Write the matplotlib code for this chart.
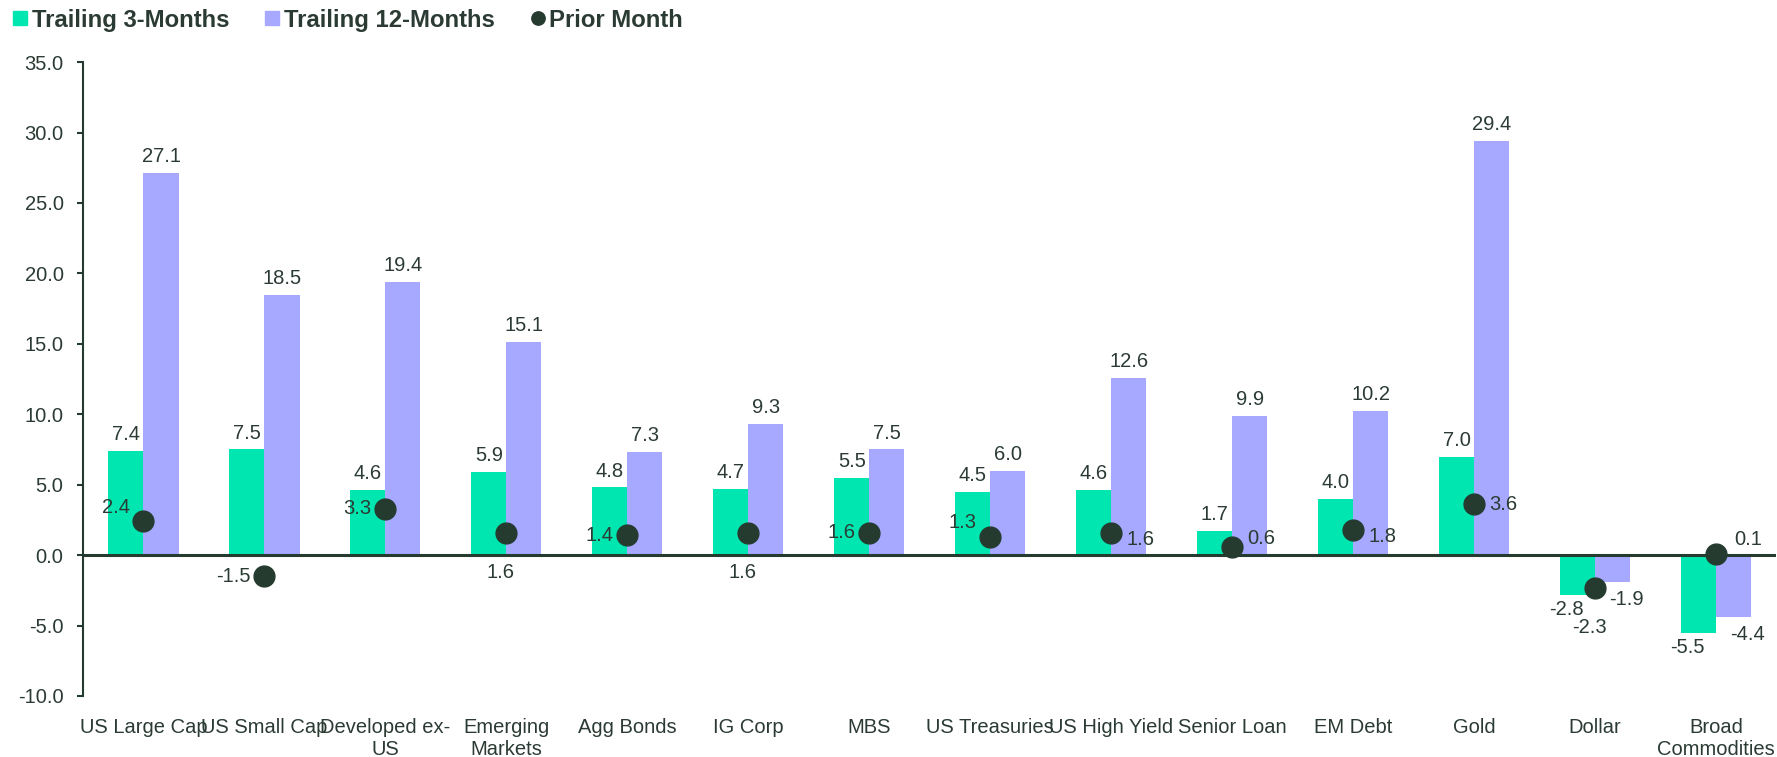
import numpy as np
import matplotlib
matplotlib.use("Agg")
import matplotlib.pyplot as plt
from matplotlib.lines import Line2D

# data
categories = ["US Large Cap", "US Small Cap", "Developed ex-\nUS", "Emerging\nMarkets",
              "Agg Bonds", "IG Corp", "MBS", "US Treasuries", "US High Yield",
              "Senior Loan", "EM Debt", "Gold", "Dollar", "Broad\nCommodities"]
trailing_3m = [7.4, 7.5, 4.6, 5.9, 4.8, 4.7, 5.5, 4.5, 4.6, 1.7, 4.0, 7.0, -2.8, -5.5]
trailing_12m = [27.1, 18.5, 19.4, 15.1, 7.3, 9.3, 7.5, 6.0, 12.6, 9.9, 10.2, 29.4, -1.9, -4.4]
prior_month = [2.4, -1.5, 3.3, 1.6, 1.4, 1.6, 1.6, 1.3, 1.6, 0.6, 1.8, 3.6, -2.3, 0.1]
# where the prior-month label sits relative to its dot
prior_side = ["upleft", "left", "left", "below", "left", "below", "left", "upleft",
              "downright", "upright", "downright", "right", "below", "upright2"]

GREEN = "#00e6b0"
PURPLE = "#a6a9ff"
DOT = "#253b2f"
TXT = "#2b3b33"
FONT = "Liberation Sans"

plt.rcParams["font.family"] = [FONT, "DejaVu Sans"]

fig = plt.figure(figsize=(17.77, 7.57), dpi=100)
ax = fig.add_axes([0.0467, 0.0806, 0.953, 0.8374])

x = np.arange(len(categories))
w = 0.29
ax.bar(x - w / 2, trailing_3m, w, color=GREEN, zorder=2)
ax.bar(x + w / 2, trailing_12m, w, color=PURPLE, zorder=2)
ax.axhline(0, color=DOT, lw=2.2, zorder=3)
ax.plot(x, prior_month, "o", color=DOT, ms=15, zorder=4, linestyle="")

fs = 14.5
offs = {"left": (-10, 0, "right", "center"),
        "upleft": (-10, 10, "right", "center"),
        "right": (11, 0, "left", "center"),
        "downright": (11, -5, "left", "center"),
        "upright": (11, 6, "left", "center"),
        "upright2": (13, 10, "left", "center"),
        "below": (-4, -29, "center", "center")}
for i in range(len(x)):
    v = trailing_3m[i]
    if v >= 0:
        ax.annotate(f"{v:.1f}", (x[i] - w / 2, v), xytext=(0, 5), textcoords="offset points",
                    ha="center", va="bottom", fontsize=fs, color=TXT)
    else:
        ax.annotate(f"{v:.1f}", (x[i] - w / 2, v), xytext=(-8, -4), textcoords="offset points",
                    ha="center", va="top", fontsize=fs, color=TXT)
    v = trailing_12m[i]
    if v >= 0:
        ax.annotate(f"{v:.1f}", (x[i] + w / 2, v), xytext=(0, 5), textcoords="offset points",
                    ha="center", va="bottom", fontsize=fs, color=TXT)
    else:
        ax.annotate(f"{v:.1f}", (x[i] + w / 2, v), xytext=(10, -6), textcoords="offset points",
                    ha="center", va="top", fontsize=fs, color=TXT)
    dx, dy, ha, va = offs[prior_side[i]]
    ax.annotate(f"{prior_month[i]:.1f}", (x[i], prior_month[i]), xytext=(dx, dy),
                textcoords="offset points", ha=ha, va=va, fontsize=fs, color=TXT)

ax.set_xlim(-0.5, len(categories) - 0.5)
ax.set_ylim(-10, 35)
ax.set_yticks(np.arange(-10, 36, 5))
ax.yaxis.set_major_formatter(matplotlib.ticker.FormatStrFormatter("%.1f"))
ax.set_xticks(x)
ax.set_xticklabels(categories)
ax.tick_params(axis="x", length=0, pad=16, labelsize=fs, labelcolor=TXT)
ax.tick_params(axis="y", length=4, width=1.5, color=DOT, pad=10, labelsize=fs, labelcolor=TXT)
for s in ["top", "right", "bottom"]:
    ax.spines[s].set_visible(False)
ax.spines["left"].set_color(DOT)
ax.spines["left"].set_linewidth(1.5)

handles = [Line2D([], [], marker="s", color=GREEN, linestyle="", ms=9.4),
           Line2D([], [], marker="s", color=PURPLE, linestyle="", ms=9.4),
           Line2D([], [], marker="o", color=DOT, linestyle="", ms=9.6)]
leg = fig.legend(handles, ["Trailing 3-Months", "Trailing 12-Months", "Prior Month"],
                 loc="upper left", bbox_to_anchor=(-0.004, 1.017), ncol=3, frameon=False,
                 handlelength=0.5, handletextpad=0.23, columnspacing=1.55,
                 prop={"family": FONT, "weight": "bold", "size": 17.2})
for t in leg.get_texts():
    t.set_color(TXT)

fig.savefig("out.png", dpi=100)
